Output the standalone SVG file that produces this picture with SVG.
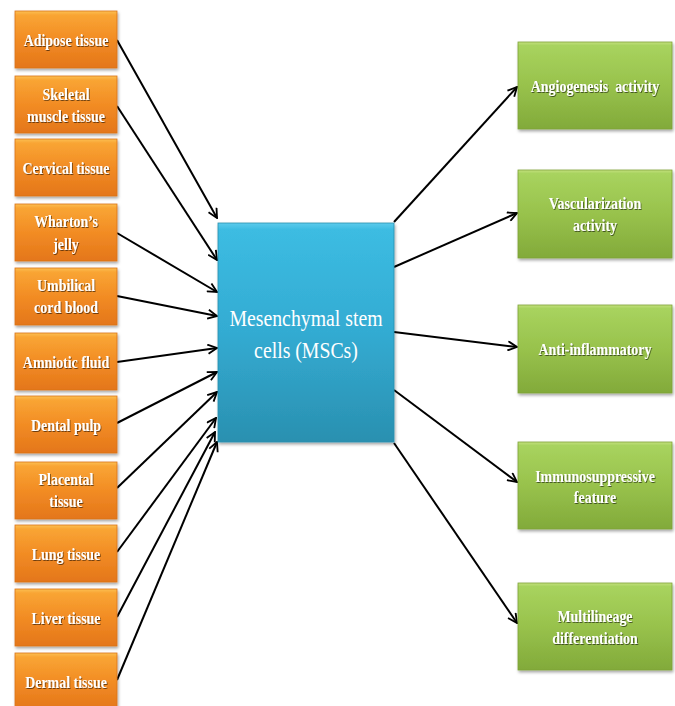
<svg xmlns="http://www.w3.org/2000/svg" width="675" height="706" viewBox="0 0 675 706">
<defs>
<linearGradient id="gOr" x1="0" y1="0" x2="0" y2="1">
<stop offset="0" stop-color="#fcc052"/>
<stop offset="0.07" stop-color="#f9a534"/>
<stop offset="0.5" stop-color="#f28c24"/>
<stop offset="1" stop-color="#e4761a"/>
</linearGradient>
<linearGradient id="gBl" x1="0" y1="0" x2="0" y2="1">
<stop offset="0" stop-color="#5ccbec"/>
<stop offset="0.03" stop-color="#3cbce2"/>
<stop offset="0.5" stop-color="#33abd2"/>
<stop offset="1" stop-color="#2a90b0"/>
</linearGradient>
<linearGradient id="gGr" x1="0" y1="0" x2="0" y2="1">
<stop offset="0" stop-color="#c4e07e"/>
<stop offset="0.04" stop-color="#a8d35e"/>
<stop offset="0.5" stop-color="#98c24c"/>
<stop offset="1" stop-color="#82aa3a"/>
</linearGradient>
<filter id="bs" x="-10%" y="-10%" width="125%" height="130%">
<feDropShadow dx="1" dy="2" stdDeviation="1.5" flood-color="#000" flood-opacity="0.35"/>
</filter>
<filter id="ts" x="-10%" y="-30%" width="120%" height="160%">
<feDropShadow dx="1" dy="1" stdDeviation="0.7" flood-color="#000" flood-opacity="0.55"/>
</filter>
<marker id="ah" viewBox="0 0 12 12" refX="11" refY="6" markerWidth="11" markerHeight="11" markerUnits="userSpaceOnUse" orient="auto">
<path d="M1,1 L11,6 L1,11" fill="none" stroke="#000" stroke-width="2"/>
</marker>
</defs>
<style>
.or{fill:url(#gOr);stroke:#d9731a;stroke-width:0.8;filter:url(#bs)}
.bl{fill:url(#gBl);stroke:#2a8fae;stroke-width:0.8;filter:url(#bs)}
.gr{fill:url(#gGr);stroke:#7ea338;stroke-width:0.8;filter:url(#bs)}
.t{font-family:"Liberation Serif","Times New Roman",serif;font-weight:bold;font-size:17px;fill:#fff;text-anchor:middle;filter:url(#ts)}
.tc{font-family:"Liberation Serif","Times New Roman",serif;font-size:23px;fill:#fff;text-anchor:middle}
.c{stroke:#000;stroke-width:2;fill:none;marker-end:url(#ah)}
</style>
<rect width="675" height="706" fill="#fff"/>

<g id="connectors">
<line class="c" x1="117" y1="40" x2="217" y2="218"/>
<line class="c" x1="117" y1="106" x2="217" y2="260"/>
<line class="c" x1="117" y1="233" x2="217" y2="292"/>
<line class="c" x1="117" y1="296" x2="217" y2="316"/>
<line class="c" x1="117" y1="362" x2="217" y2="348"/>
<line class="c" x1="117" y1="423" x2="217" y2="372"/>
<line class="c" x1="117" y1="488" x2="217" y2="392"/>
<line class="c" x1="117" y1="552" x2="216" y2="418"/>
<line class="c" x1="117" y1="617" x2="215" y2="432"/>
<line class="c" x1="117" y1="680" x2="217" y2="442"/>
<line class="c" x1="394" y1="222" x2="517" y2="87"/>
<line class="c" x1="394" y1="267" x2="517" y2="213"/>
<line class="c" x1="394" y1="332" x2="517" y2="347"/>
<line class="c" x1="394" y1="390" x2="517" y2="482"/>
<line class="c" x1="394" y1="443" x2="517" y2="623"/>
</g>

<g id="adipose"><rect class="or" x="15" y="11" width="102" height="57"/>
<text class="t" transform="translate(66,45.5) scale(0.82,1)">Adipose tissue</text></g>
<g id="skeletal"><rect class="or" x="15" y="76" width="102" height="57"/>
<text class="t" transform="translate(66,99.5) scale(0.82,1)">Skeletal</text>
<text class="t" transform="translate(66,122) scale(0.82,1)">muscle tissue</text></g>
<g id="cervical"><rect class="or" x="15" y="139" width="102" height="57"/>
<text class="t" transform="translate(66,173.5) scale(0.82,1)">Cervical tissue</text></g>
<g id="wharton"><rect class="or" x="15" y="204" width="102" height="57"/>
<text class="t" transform="translate(66,227) scale(0.82,1)">Wharton’s</text>
<text class="t" transform="translate(66,249.5) scale(0.82,1)">jelly</text></g>
<g id="umbilical"><rect class="or" x="15" y="268" width="102" height="57"/>
<text class="t" transform="translate(66,291) scale(0.82,1)">Umbilical</text>
<text class="t" transform="translate(66,313) scale(0.82,1)">cord blood</text></g>
<g id="amniotic"><rect class="or" x="15" y="333" width="102" height="57"/>
<text class="t" transform="translate(66,367.5) scale(0.82,1)">Amniotic fluid</text></g>
<g id="dental"><rect class="or" x="15" y="396" width="102" height="57"/>
<text class="t" transform="translate(66,430.5) scale(0.82,1)">Dental pulp</text></g>
<g id="placental"><rect class="or" x="15" y="462" width="102" height="57"/>
<text class="t" transform="translate(66,485) scale(0.82,1)">Placental</text>
<text class="t" transform="translate(66,507) scale(0.82,1)">tissue</text></g>
<g id="lung"><rect class="or" x="15" y="525" width="102" height="57"/>
<text class="t" transform="translate(66,559.5) scale(0.82,1)">Lung tissue</text></g>
<g id="liver"><rect class="or" x="15" y="589" width="102" height="57"/>
<text class="t" transform="translate(66,623.5) scale(0.82,1)">Liver  tissue</text></g>
<g id="dermal"><rect class="or" x="15" y="653" width="102" height="57"/>
<text class="t" transform="translate(66,687.5) scale(0.82,1)">Dermal tissue</text></g>

<g id="mscs"><rect class="bl" x="218" y="223" width="176" height="219"/>
<text class="tc" transform="translate(306,326) scale(0.86,1)">Mesenchymal stem</text>
<text class="tc" transform="translate(306,358) scale(0.86,1)">cells (MSCs)</text></g>

<g id="angiogenesis"><rect class="gr" x="518" y="42" width="154" height="87"/>
<text class="t" transform="translate(595,92) scale(0.82,1)" xml:space="preserve">Angiogenesis  activity</text></g>
<g id="vascularization"><rect class="gr" x="518" y="170" width="154" height="88"/>
<text class="t" transform="translate(595,208.5) scale(0.82,1)">Vascularization</text>
<text class="t" transform="translate(595,230.5) scale(0.82,1)">activity</text></g>
<g id="antiinflammatory"><rect class="gr" x="518" y="305" width="154" height="88"/>
<text class="t" transform="translate(595,355) scale(0.82,1)">Anti-inflammatory</text></g>
<g id="immunosuppressive"><rect class="gr" x="518" y="442" width="154" height="87"/>
<text class="t" transform="translate(595,481.5) scale(0.82,1)">Immunosuppressive</text>
<text class="t" transform="translate(595,503) scale(0.82,1)">feature</text></g>
<g id="multilineage"><rect class="gr" x="518" y="583" width="154" height="87"/>
<text class="t" transform="translate(595,622) scale(0.82,1)">Multilineage</text>
<text class="t" transform="translate(595,643.5) scale(0.82,1)">differentiation</text></g>
</svg>
